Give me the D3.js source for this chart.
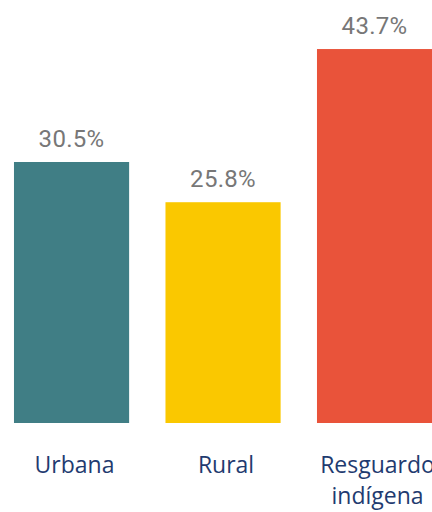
<!DOCTYPE html>
<html>
<head>
  <meta charset="utf-8">
  <script src="https://d3js.org/d3.v7.min.js"></script>
  <style>
    body { margin: 0; background: #fff; }
    .value { fill: #777777; font-family: Roboto, sans-serif; font-size: 24px; letter-spacing: 0.3px; }
    .cat { fill: #1f3b70; font-family: "Open Sans", sans-serif; font-size: 23px; }
  </style>
</head>
<body>
  <svg width="432" height="512"></svg>
  <script>
    var categories = ["Urbana", "Rural", "Resguardo indígena"];
    var values = [30.5, 25.8, 43.7];
    var colors = ["#407e85", "#fac800", "#e9533a"];
    var valueLabels = ["30.5%", "25.8%", "43.7%"];

    var svg = d3.select("svg");
    var base = 423;

    var x = d3.scaleBand()
      .domain(categories)
      .range([-4.2, 450.3])
      .paddingInner(0.24)
      .paddingOuter(0.12);

    var y = d3.scaleLinear().domain([0, 30.5]).range([base, 162]);

    svg.selectAll(".bar")
      .data(categories)
      .enter().append("rect")
      .attr("class", "bar")
      .attr("x", function(d) { return x(d); })
      .attr("y", function(d, i) { return y(values[i]); })
      .attr("width", x.bandwidth())
      .attr("height", function(d, i) { return base - y(values[i]); })
      .attr("fill", function(d, i) { return colors[i]; });

    svg.selectAll(".value")
      .data(categories)
      .enter().append("text")
      .attr("class", "value")
      .attr("text-anchor", "middle")
      .attr("x", function(d) { return x(d) + x.bandwidth() / 2; })
      .attr("y", function(d, i) { return y(values[i]) - 15; })
      .text(function(d, i) { return valueLabels[i]; });

    // category labels, wrapped after the first word for the long one
    var cat = svg.selectAll(".cat")
      .data(categories)
      .enter().append("text")
      .attr("class", "cat")
      .attr("text-anchor", "middle")
      .attr("x", function(d) { return x(d) + x.bandwidth() / 2 + 3; })
      .attr("y", 473);

    cat.each(function(d) {
      var words = d.split(" ");
      var t = d3.select(this);
      words.forEach(function(w, j) {
        t.append("tspan")
          .attr("x", t.attr("x"))
          .attr("dy", j === 0 ? 0 : 31)
          .text(w);
      });
    });
  </script>
</body>
</html>
